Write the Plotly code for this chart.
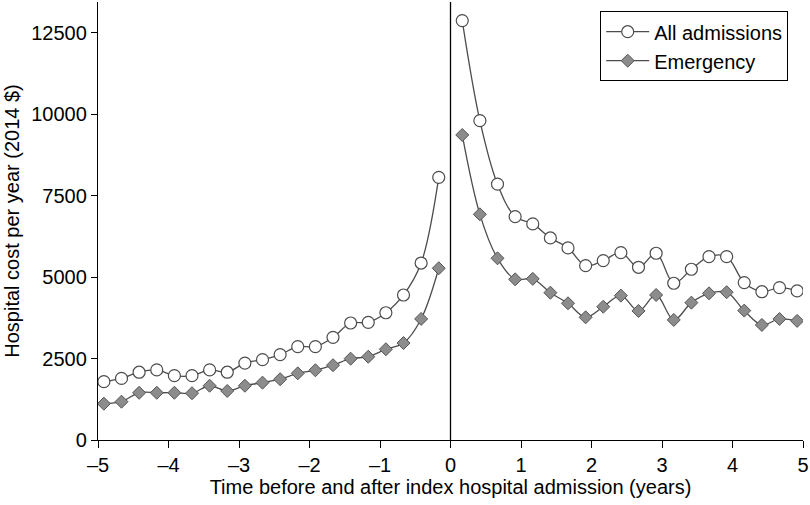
import plotly.graph_objects as go

# time points (months relative to index admission)
months_before = [-59, -56, -53, -50, -47, -44, -41, -38, -35, -32,
                 -29, -26, -23, -20, -17, -14, -11, -8, -5, -2]
months_after = [2, 5, 8, 11, 14, 17, 20, 23, 26, 29,
                32, 35, 38, 41, 44, 47, 50, 53, 56, 59]

all_before = [1790, 1890, 2080, 2150, 1975, 1975, 2150, 2080, 2360, 2465,
              2620, 2865, 2865, 3150, 3590, 3610, 3905, 4450, 5430, 8060]
emerg_before = [1115, 1175, 1450, 1450, 1450, 1435, 1665, 1505, 1665, 1760,
                1865, 2045, 2140, 2295, 2495, 2555, 2785, 2975, 3715, 5270]
all_after = [12870, 9800, 7850, 6855, 6630, 6200, 5895, 5350, 5505, 5750,
             5300, 5730, 4810, 5240, 5625, 5625, 4830, 4550, 4675, 4575]
emerg_after = [9360, 6925, 5575, 4930, 4945, 4520, 4195, 3765, 4090, 4430,
               3960, 4450, 3685, 4215, 4500, 4535, 3970, 3530, 3715, 3655]

x_ticks = [-5, -4, -3, -2, -1, 0, 1, 2, 3, 4, 5]
y_ticks = [0, 2500, 5000, 7500, 10000, 12500]

xb = [m / 12 for m in months_before]
xa = [m / 12 for m in months_after]

FONT = "Liberation Sans, Arial, sans-serif"
FS = 20
LINE = "#4d4d4d"

circle = dict(symbol="circle", size=12, color="white", line=dict(width=1.2, color="#4d4d4d"))
diamond = dict(symbol="diamond", size=10, color="#8c8c8c", line=dict(width=1, color="#555555"))

fig = go.Figure()
fig.add_trace(go.Scatter(x=xb, y=all_before, mode="lines+markers", name="All admissions",
                         line=dict(color=LINE, width=1.3, shape="spline"),
                         marker=circle, legendgroup="a"))
fig.add_trace(go.Scatter(x=xa, y=all_after, mode="lines+markers", name="All admissions",
                         line=dict(color=LINE, width=1.3, shape="spline"),
                         marker=circle, legendgroup="a", showlegend=False))
fig.add_trace(go.Scatter(x=xb, y=emerg_before, mode="lines+markers", name="Emergency",
                         line=dict(color=LINE, width=1.3, shape="spline"),
                         marker=diamond, legendgroup="e"))
fig.add_trace(go.Scatter(x=xa, y=emerg_after, mode="lines+markers", name="Emergency",
                         line=dict(color=LINE, width=1.3, shape="spline"),
                         marker=diamond, legendgroup="e", showlegend=False))

fig.add_shape(type="line", x0=0, x1=0, y0=0, y1=1, xref="x", yref="paper",
              line=dict(color="black", width=1.3))

fig.update_layout(
    width=810, height=505,
    margin=dict(l=98, r=7, t=2, b=65),
    paper_bgcolor="white", plot_bgcolor="white",
    font=dict(family=FONT, size=FS, color="black"),
    showlegend=True,
    legend=dict(x=0.979, y=0.979, xanchor="right", yanchor="top",
                bordercolor="black", borderwidth=1, bgcolor="white",
                font=dict(size=FS), tracegroupgap=0, itemwidth=43),
    xaxis=dict(range=[-5, 5], tickvals=x_ticks, ticktext=[str(v).replace("-", "\u2013") for v in x_ticks],
               showgrid=False, zeroline=False, showline=True, linecolor="black", linewidth=1.3,
               ticks="outside", ticklen=7, tickcolor="black", automargin=False,
               title=dict(text="Time before and after index hospital admission (years)",
                          standoff=2, font=dict(size=FS))),
    yaxis=dict(range=[0, 13440], tickvals=y_ticks, ticktext=[str(v) for v in y_ticks],
               showgrid=False, zeroline=False, showline=True, linecolor="black", linewidth=1.3,
               ticks="outside", ticklen=6, tickcolor="black", automargin=False,
               title=dict(text="Hospital cost per year (2014 $)", standoff=6, font=dict(size=FS))),
)

fig.write_html("out.html", config={"displayModeBar": False},
               post_script="document.body.style.margin='0px';")
